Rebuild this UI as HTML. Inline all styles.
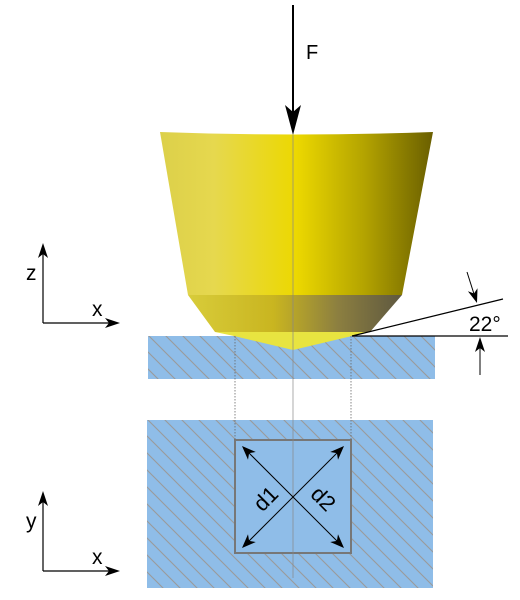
<!DOCTYPE html>
<html><head><meta charset="utf-8"><style>
html,body{margin:0;padding:0;background:#fff;}
svg{display:block;font-family:"Liberation Sans","DejaVu Sans",sans-serif;}
</style></head><body>
<svg width="520" height="600" viewBox="0 0 520 600">
<defs>
<linearGradient id="gy" x1="0" x2="1" y1="0" y2="0">
<stop offset="0" stop-color="#dcd04a"/>
<stop offset="0.2" stop-color="#e6d84e"/>
<stop offset="0.5" stop-color="#ecd800"/>
<stop offset="0.75" stop-color="#b3a300"/>
<stop offset="1" stop-color="#6a5f00"/>
</linearGradient>
<linearGradient id="gb" x1="0" x2="1" y1="0" y2="0">
<stop offset="0" stop-color="#d8cc3a"/>
<stop offset="0.4" stop-color="#c9b520"/>
<stop offset="0.7" stop-color="#8c7f40"/>
<stop offset="1" stop-color="#5e5840"/>
</linearGradient>
<pattern id="hatch" patternUnits="userSpaceOnUse" width="17" height="17">
<rect width="17" height="17" fill="#8fbde8"/>
<line x1="0" y1="0" x2="17" y2="17" stroke="#9a9a9a" stroke-width="1.1"/>
<line x1="-1" y1="16" x2="1" y2="18" stroke="#9a9a9a" stroke-width="1.1"/>
<line x1="16" y1="-1" x2="18" y2="1" stroke="#9a9a9a" stroke-width="1.1"/>
</pattern>
</defs>

<path d="M160,132 Q293,137 433,132 L402,295 L188,295 Z" fill="url(#gy)"/>
<path d="M188,295 L402,295 L370,332 L215,332 Z" fill="url(#gb)"/>

<rect x="148" y="336" width="287" height="43" fill="url(#hatch)"/>
<path d="M215,332 L370,332 L352,336 L293,350 L234,336 Z" fill="#e8e440"/>

<rect x="147" y="420" width="286" height="168" fill="url(#hatch)"/>
<rect x="235" y="440" width="116" height="113" fill="#8fbde8" stroke="#777" stroke-width="2"/>

<line x1="293" y1="135" x2="293" y2="578" stroke="#888" stroke-width="0.7"/>
<line x1="235" y1="336" x2="235" y2="440" stroke="#666" stroke-width="0.8" stroke-dasharray="1.5,1.5"/>
<line x1="351" y1="336" x2="351" y2="440" stroke="#666" stroke-width="0.8" stroke-dasharray="1.5,1.5"/>

<g>
<line x1="245" y1="449" x2="341" y2="545" stroke="#000" stroke-width="1"/>
<path d="M242,446 L255.8,452 L249.1,453.1 L248,459.8 Z" fill="#000"/>
<path d="M344,548 L338,534.2 L336.9,540.9 L330.2,542 Z" fill="#000"/>
</g>
<g>
<line x1="245" y1="545" x2="341" y2="449" stroke="#000" stroke-width="1"/>
<path d="M344,446 L338,459.8 L336.9,453.1 L330.2,452 Z" fill="#000"/>
<path d="M242,548 L255.8,542 L249.1,540.9 L248,534.2 Z" fill="#000"/>
</g>
<text x="271" y="504" font-size="22" text-anchor="middle" transform="rotate(-45 271 504)">d1</text>
<text x="318" y="504" font-size="22" text-anchor="middle" transform="rotate(45 318 504)">d2</text>

<line x1="293" y1="5" x2="293" y2="115" stroke="#000" stroke-width="2"/>
<path d="M285,105 L293,135 L301,105 L293,112 Z" fill="#000"/>
<text x="306" y="59" font-size="20">F</text>

<line x1="352" y1="336" x2="503" y2="299" stroke="#000" stroke-width="1.2"/>
<line x1="352" y1="336" x2="508" y2="336" stroke="#000" stroke-width="1.2"/>
<g>
<line x1="467" y1="272" x2="474" y2="294" stroke="#000" stroke-width="1"/>
<path d="M477,303 L477.5,288.2 L474,293.5 L467.9,291.2 Z" fill="#000"/>
</g>
<g>
<line x1="480" y1="375" x2="480" y2="348" stroke="#000" stroke-width="1"/>
<path d="M480,337 L485,352 L480,348 L475,352 Z" fill="#000"/>
</g>
<text x="469" y="331" font-size="21">22°</text>

<g>
<line x1="43" y1="323" x2="43" y2="250" stroke="#000" stroke-width="1.2"/>
<path d="M43,243 L48,258 L43,254 L38,258 Z" fill="#000"/>
</g>
<g>
<line x1="43" y1="323" x2="112" y2="323" stroke="#000" stroke-width="1.2"/>
<path d="M120,323 L105,318 L109,323 L105,328 Z" fill="#000"/>
</g>
<text x="26" y="280" font-size="21">z</text>
<text x="92" y="316" font-size="21">x</text>

<g>
<line x1="43" y1="571" x2="43" y2="498" stroke="#000" stroke-width="1.2"/>
<path d="M43,491 L48,506 L43,502 L38,506 Z" fill="#000"/>
</g>
<g>
<line x1="43" y1="571" x2="112" y2="571" stroke="#000" stroke-width="1.2"/>
<path d="M120,571 L105,566 L109,571 L105,576 Z" fill="#000"/>
</g>
<text x="26" y="528" font-size="21">y</text>
<text x="92" y="564" font-size="21">x</text>
</svg>
</body></html>
